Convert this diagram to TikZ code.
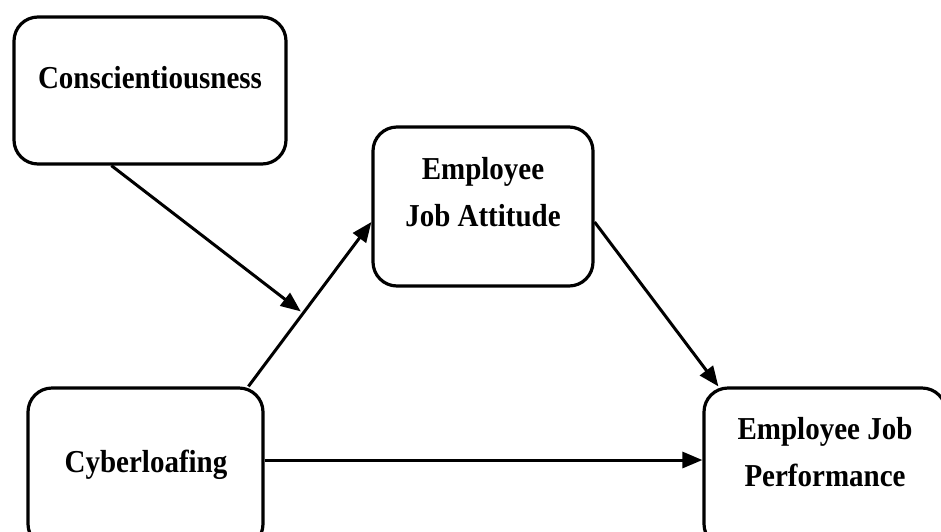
\documentclass[tikz,border=0pt]{standalone}
\usepackage{fontspec}
\setmainfont{Liberation Serif}
\usetikzlibrary{arrows.meta,calc}
\begin{document}
\begin{tikzpicture}[x=1pt,y=1pt,
  box/.style={draw=black,line width=3.2pt,rounded corners=24pt,rectangle,minimum width=#1,inner sep=0pt},
  lbl/.style={font=\bfseries\fontsize{29}{42}\selectfont,align=center,inner sep=0pt,anchor=base,yscale=1.1,transform shape},
  arr/.style={line width=3pt,-{Triangle[length=20pt,width=16pt]}},
  ln/.style={line width=3pt}]
\useasboundingbox (0,0) rectangle (941,-531);
\clip (0,0) rectangle (941,-531);
\fill[white] (0,0) rectangle (941,-531);
% boxes
\node[box=272pt,minimum height=147pt] (consc) at (150,-90.5) {};
\node[box=220pt,minimum height=159pt] (att) at (483,-206.5) {};
\node[box=235pt,minimum height=160pt] (cyb) at (145.5,-468) {};
\node[box=242pt,minimum height=160pt] (perf) at (825,-468) {};
% labels
\node[lbl] (tconsc) at (150,-88) {Conscientiousness};
\node[lbl] (tatt) at (483,-226) {Employee\\Job Attitude};
\node[lbl] (tcyb) at (146,-472) {Cyberloafing};
\node[lbl] (tperf) at (825,-486) {Employee Job\\Performance};
% connector end points
\coordinate (cybtop) at ($(cyb.north west)+(222,0)$);
\coordinate (attin) at ($(att.west)+(0,-15.5)$);
\coordinate (attout) at ($(att.east)+(0,-15.5)$);
\coordinate (perfin) at ($(perf.north west)+(16,0)$);
\coordinate (conscout) at ($(consc.south west)+(99,0)$);
\coordinate (mid) at ($(cybtop)!0.445!(attin)$);
% connectors
\draw[arr] (cybtop) -- (attin);
\draw[arr] (attout) -- (perfin);
\draw[arr] (cyb.east |- 0,-460) -- (perf.west |- 0,-460);
\draw[arr,shorten >=3pt] (conscout) -- (mid);
\end{tikzpicture}
\end{document}
